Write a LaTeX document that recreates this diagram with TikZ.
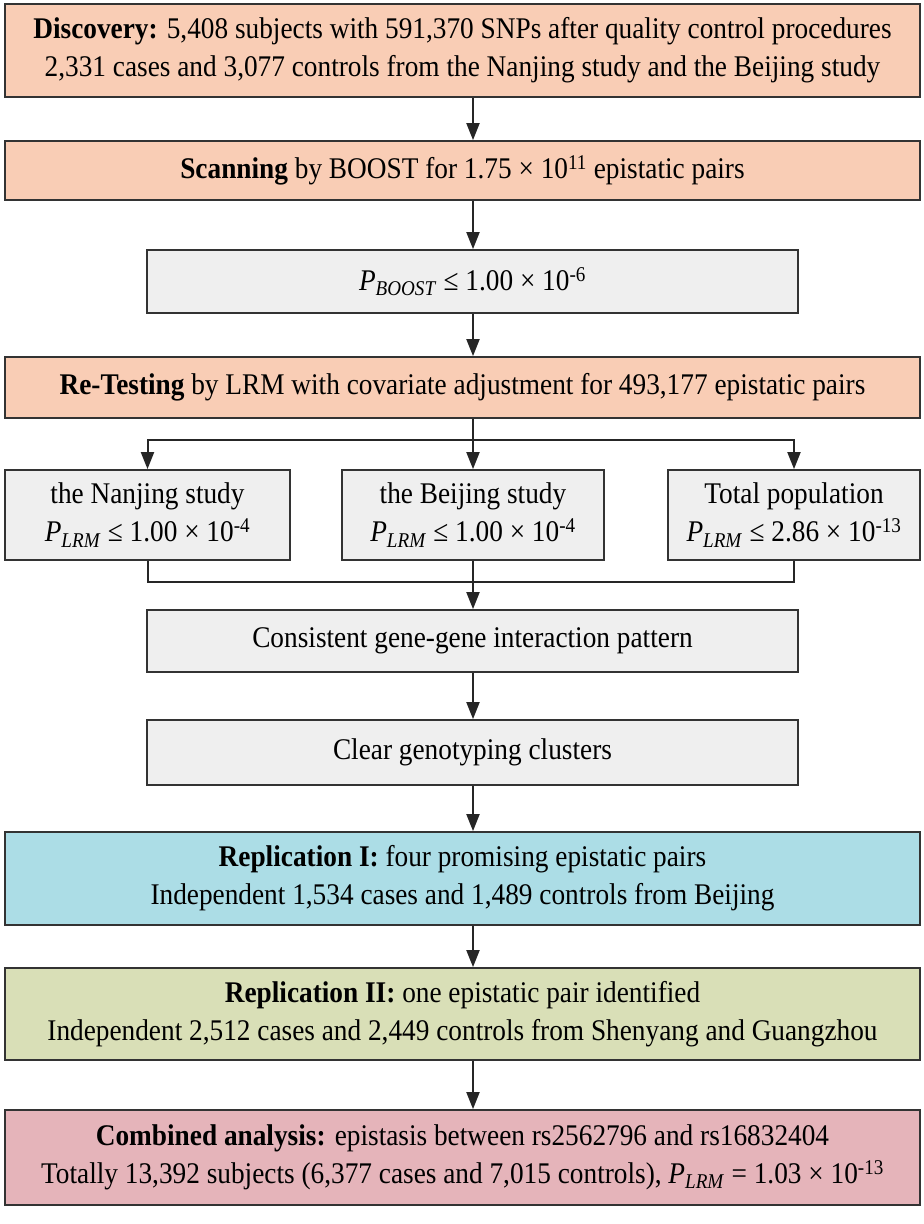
\documentclass[tikz,border=0pt]{standalone}
\usepackage{fontspec}
\setmainfont{Liberation Serif}[FakeStretch=0.91]
\usetikzlibrary{arrows.meta}
\definecolor{peach}{RGB}{249,205,181}
\definecolor{paper}{RGB}{239,239,239}
\definecolor{skyblue}{RGB}{172,221,230}
\definecolor{olive}{RGB}{217,223,183}
\definecolor{rose}{RGB}{229,180,186}
\tikzset{
  stage/.style={draw=black!80, line width=1.8pt, align=center, inner sep=0pt,
    font=\fontsize{30}{38}\selectfont},
  widebox/.style={stage, minimum width=915pt},
  midbox/.style={stage, fill=paper, minimum width=651pt},
  link/.style={line width=2pt, black!85},
  arr/.style={link, -{Triangle[length=17pt, width=13pt]}}
}
\newcommand{\plrm}{\textit{P}\textsubscript{\textit{LRM}}}
\begin{document}
\begin{tikzpicture}[x=1pt, y=-1pt]
\useasboundingbox (0,0) rectangle (924,1224);
\coordinate (axis) at (473,0);

% Discovery stage
\node[widebox, fill=peach, minimum height=93pt] (disc) at (462.5,50.5)
  {\textbf{Discovery:} 5,408 subjects with 591,370 SNPs after quality control procedures\\
   2,331 cases and 3,077 controls from the Nanjing study and the Beijing study};
\node[widebox, fill=peach, minimum height=59pt] (scan) at (462.5,170.5)
  {\textbf{Scanning} by BOOST for 1.75 × 10\textsuperscript{11} epistatic pairs};
\node[midbox, minimum height=63pt] (boost) at (472.5,281.5)
  {\textit{P}\textsubscript{\textit{BOOST}} ≤ 1.00 × 10\textsuperscript{-6}};
\node[widebox, fill=peach, minimum height=61pt] (retest) at (462.5,387.5)
  {\textbf{Re-Testing} by LRM with covariate adjustment for 493,177 epistatic pairs};

\draw[arr] (disc.south -| axis) -- (scan.north -| axis);
\draw[arr] (scan.south -| axis) -- (boost.north -| axis);
\draw[arr] (boost.south -| axis) -- (retest.north -| axis);

% three populations
\node[stage, fill=paper, minimum width=285pt, minimum height=90pt] (nanjing) at (147.5,515)
  {the Nanjing study\\ \plrm\ ≤ 1.00 × 10\textsuperscript{-4}};
\node[stage, fill=paper, minimum width=262pt, minimum height=90pt] (beijing) at (473,515)
  {the Beijing study\\ \plrm\ ≤ 1.00 × 10\textsuperscript{-4}};
\node[stage, fill=paper, minimum width=252pt, minimum height=90pt] (total) at (794,515)
  {Total population\\ \plrm\ ≤ 2.86 × 10\textsuperscript{-13}};

\coordinate (split) at (473,440);
\coordinate (merge) at (473,582);
\draw[link] (retest.south -| axis) -- (split);
\draw[arr] (split) -| (nanjing.north);
\draw[arr] (split) -- (beijing.north);
\draw[arr] (split) -| (total.north);
\draw[link] (nanjing.south) |- (merge) -| (total.south);
\draw[link] (beijing.south) -- (merge);

% filters
\node[midbox, minimum height=62pt] (consist) at (472.5,641)
  {Consistent gene-gene interaction pattern};
\node[midbox, minimum height=65pt] (clear) at (472.5,752.5)
  {Clear genotyping clusters};
\draw[arr] (merge) -- (consist.north -| axis);
\draw[arr] (consist.south -| axis) -- (clear.north -| axis);

% replication
\node[widebox, fill=skyblue, minimum height=93pt] (rep1) at (462.5,878.5)
  {\textbf{Replication I:} four promising epistatic pairs\\
   Independent 1,534 cases and 1,489 controls from Beijing};
\node[widebox, fill=olive, minimum height=92pt] (rep2) at (462.5,1014)
  {\textbf{Replication II:} one epistatic pair identified\\
   Independent 2,512 cases and 2,449 controls from Shenyang and Guangzhou};
\node[widebox, fill=rose, minimum height=95pt] (comb) at (462.5,1157.5)
  {\textbf{Combined analysis:} epistasis between rs2562796 and rs16832404\\
   Totally 13,392 subjects (6,377 cases and 7,015 controls), \plrm\ = 1.03 × 10\textsuperscript{-13}};
\draw[arr] (clear.south -| axis) -- (rep1.north -| axis);
\draw[arr] (rep1.south -| axis) -- (rep2.north -| axis);
\draw[arr] (rep2.south -| axis) -- (comb.north -| axis);
\end{tikzpicture}
\end{document}
